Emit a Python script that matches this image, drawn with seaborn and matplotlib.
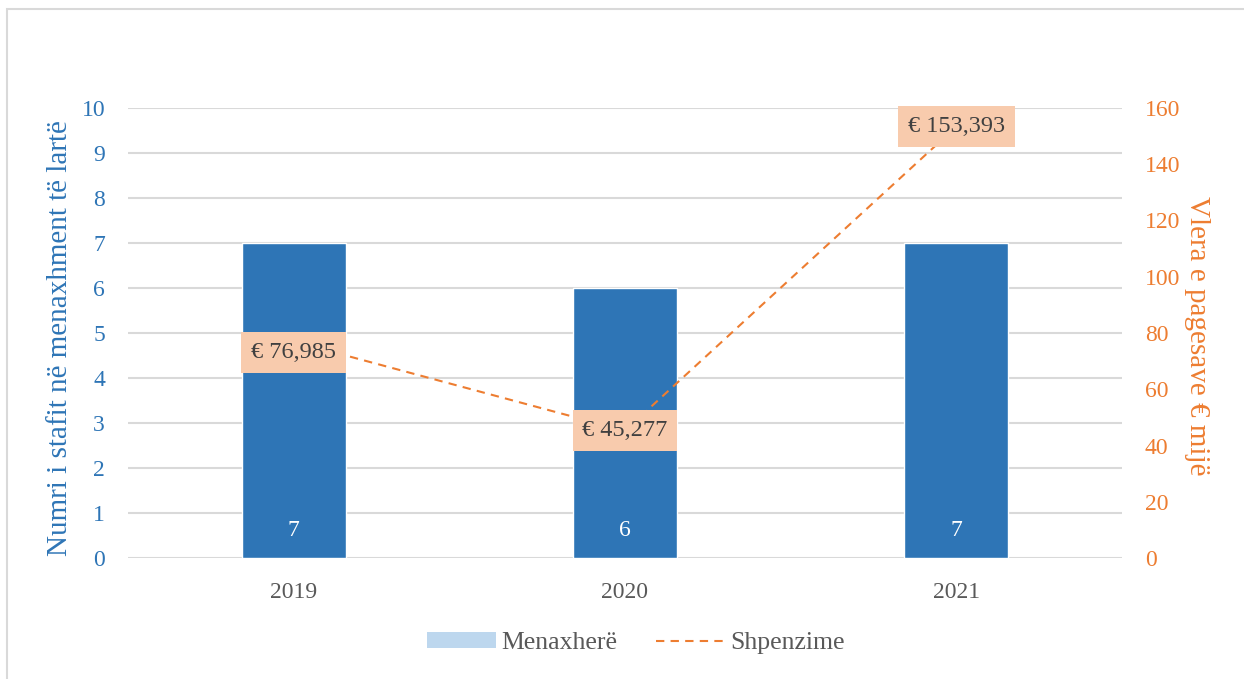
import numpy as np
import pandas as pd
import matplotlib
matplotlib.use('Agg')
import matplotlib.pyplot as plt
import seaborn as sns
from matplotlib.patches import Patch, Rectangle
from matplotlib.lines import Line2D

# data
years = ['2019', '2020', '2021']
managers = [7, 6, 7]
spending = [76.985, 45.277, 153.393]   # thousand euro

left_ticks = list(range(0, 11))
right_ticks = list(range(0, 161, 20))

BLUE = '#2E75B6'
ORANGE = '#ED7D31'
BOX = '#F8CBAD'
GRID = '#D9D9D9'
TXT = '#404040'

sns.set_theme(style='white')
plt.rcParams['font.family'] = ['Liberation Serif', 'DejaVu Serif']

df = pd.DataFrame({'year': years, 'managers': managers, 'spending': spending})

fig, ax = plt.subplots(figsize=(12.44, 6.79), dpi=100)
fig.subplots_adjust(left=128/1244, right=1122/1244, top=1-108/679, bottom=1-558/679)

# thin grey frame (only left and top visible)
fig.patches.append(Rectangle((7/1244, -0.2), 1.5, 1.2 - 9/679, transform=fig.transFigure,
                             fill=False, edgecolor=GRID, linewidth=1.5, clip_on=False))

sns.barplot(data=df, x='year', y='managers', color=BLUE, saturation=1, width=0.314, ax=ax, zorder=2)
ax.set_ylim(0, 10)
ax.set_yticks(left_ticks)
ax.yaxis.grid(True, color=GRID, linewidth=1.5, zorder=0)
ax.set_axisbelow(True)
for s in ax.spines.values():
    s.set_visible(False)
ax.tick_params(axis='y', colors=BLUE, labelsize=17, length=0, pad=16.5)
ax.tick_params(axis='x', colors='#595959', labelsize=17, length=0, pad=17)
ax.set_xlabel('')
ax.set_ylabel('Numri i stafit në menaxhment të lartë', color=BLUE, fontsize=21, va='center')
ax.yaxis.set_label_coords(-0.0684, 0.489)

for i, v in enumerate(managers):
    ax.text(i, 0.62, str(v), ha='center', va='center', color='white', fontsize=17)

ax2 = ax.twinx()
sns.lineplot(x=np.arange(len(years)), y=spending, ax=ax2, color=ORANGE,
             linestyle=(0, (4, 3)), linewidth=1.5)
ax2.set_ylim(0, 160)
ax2.set_yticks(right_ticks)
for s in ax2.spines.values():
    s.set_visible(False)
ax2.tick_params(axis='y', colors=ORANGE, labelsize=17, length=0, pad=16.5)
ax2.set_ylabel('Vlera e pagesave € mijë', color=ORANGE, fontsize=21, rotation=270, va='center')
ax2.yaxis.set_label_coords(1.0755, 0.495)
ax.set_xlim(-0.5, 2.5)

# first label sits a little below its point in the original
label_dy = [-8, 0, 0]
for i, v in enumerate(spending):
    ax2.annotate('€ {:,.0f}'.format(v * 1000), xy=(i, v), xytext=(0, label_dy[i]),
                 textcoords='offset points', ha='center', va='center', color=TXT, fontsize=17.5,
                 bbox=dict(boxstyle='square,pad=0.4', facecolor=BOX, edgecolor='none'), zorder=5)

handles = [Patch(facecolor='#BDD7EE', edgecolor='none'),
           Line2D([0], [0], color=ORANGE, linestyle=(0, (4, 3)), linewidth=1.5)]
leg = fig.legend(handles, ['Menaxherë', 'Shpenzime'], loc='center', bbox_to_anchor=(636/1244, 1-643/679),
                 ncol=2, frameon=False, fontsize=18.5, handlelength=2.7, handleheight=0.55,
                 columnspacing=1.5, handletextpad=0.2)
for t in leg.get_texts():
    t.set_color('#595959')

plt.savefig('out.png', dpi=100)
